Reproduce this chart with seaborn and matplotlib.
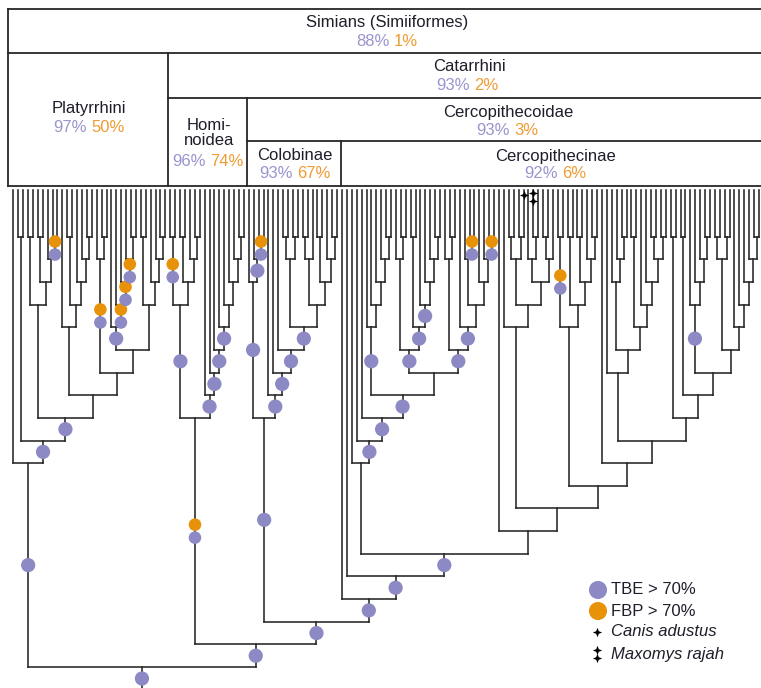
import matplotlib
matplotlib.use("Agg")
import matplotlib.pyplot as plt
import numpy as np
import pandas as pd
import seaborn as sns
from matplotlib.collections import LineCollection
from matplotlib.offsetbox import TextArea, HPacker, AnnotationBbox
from matplotlib.path import Path

sns.set_theme(style="white")
plt.rcParams["font.family"] = ["Liberation Sans", "DejaVu Sans"]

# ---------------- tree topology ----------------
# '*' = leaf; flags after a clade: b = TBE > 70%, o = FBP > 70%
W_PLAT = "(*,((*,*),(*,(*,(*,*)))))"
LADDER_PLAT = "(*,(*,(*,(*,(*,*))ob)ob)ob)b"
TAIL_PLAT = "((*,*),(*,(*,(*,*))))"
C1_PLAT = "((*,*),((*,*),(*,(*,*)ob)))"
H7_PLAT = "((*,(*,*))ob,(" + LADDER_PLAT + "," + TAIL_PLAT + "))"
PLATYRRHINI = "(*,((*,*),(" + C1_PLAT + ",(" + W_PLAT + "," + H7_PLAT + "))b)b)b"

HOMINOIDEA = ("(((*,*)ob,((*,*),(*,(*,*))))b,"
              "(*,(*,(*,(*,(*,(*,(*,(*,*)))))b)b)b)b)ob")

CORE_COL = "(((*,*),(*,*)),(((*,*),*),((*,*),(*,(*,*)))))b"
COLOBINAE = "((*,(*,(*,*)ob)b)b,(*,(*,(*," + CORE_COL + ")b)b)b)b"

R5A = "(*,(*,(*,(*,(*,*)))))b"
R6A = "((*,(*,*)),((*,*),(*,(*,(*,(*,*))))b)b)b"
R6B = "((*,(*,*)),(*,((*,(*,*)ob),(*,(*,(*,*)ob))))b)b"
R11 = "(*,(*,(*,(" + R5A + ",(" + R6A + "," + R6B + "))b)b)b)"
S1B = "(*,(((*,*),(*,*)),((*,(*,*)),((*,*),*))))"
S2 = "((*,*)ob,((*,*),((*,*),(*,(*,*)))))"
S4 = "(*,((*,(*,(*,*))),((*,*),(*,(*,((*,*),(*,*)))))))"
S9 = "((*,*),((*,*),((*,(*,(*,(*,*))))b,(((*,*),(*,*)),(*,(*,(*,(*,(*,*)))))))))"
R14 = "(*,(" + S1B + ",(" + S2 + ",(*,(" + S4 + "," + S9 + ")))))"
CERCOPITHECINAE = "(*,(*,(" + R11 + "," + R14 + ")b)b)b"

TREE = "(" + PLATYRRHINI + ",(" + HOMINOIDEA + ",(" + COLOBINAE + "," + CERCOPITHECINAE + ")b)b)b"

# leaves carrying contaminant flags (leaf index)
canis_leaves = [104]
maxomys_leaves = [106]

# ---------------- header boxes ----------------
clade_names = ["Simians (Simiiformes)", "Catarrhini", "Cercopithecoidae", "Platyrrhini",
               "Homi-\nnoidea", "Colobinae", "Cercopithecinae"]
tbe_pct = ["88%", "93%", "93%", "97%", "96%", "93%", "92%"]
fbp_pct = ["1%", "2%", "3%", "50%", "74%", "67%", "6%"]
name_xy = [(387, 23), (469, 66.5), (508, 113), (89, 108.5), (209, 133), (295, 155), (556, 156)]
pct_xy = [(387, 41), (467, 85), (507, 130.5), (89, 127), (208, 161.5), (295, 173.5), (555, 173.5)]

legend_labels = ["TBE > 70%", "FBP > 70%", "Canis adustus", "Maxomys rajah"]

# ---------------- layout ----------------
BLUE = "#8C89C4"
ORANGE = "#E8920A"
BLUE_TXT = "#9995CD"
ORANGE_TXT = "#EE9C34"
INK = "#262626"

X0, DX = 13.3, 4.906
LEAF_TOP = 190.0
Y1, DY = 236.7, 22.65
ROOT_BOTTOM = 690.0


def parse(s, i=0):
    if s[i] == "*":
        return {"kids": [], "flag": ""}, i + 1
    i += 1
    kids = []
    while True:
        node, i = parse(s, i)
        kids.append(node)
        if s[i] == ",":
            i += 1
            continue
        i += 1
        break
    flag = ""
    while i < len(s) and s[i] in "ob":
        flag += s[i]
        i += 1
    return {"kids": kids, "flag": flag}, i


root, _ = parse(TREE)
counter = [0]
leaves = []


def place(node):
    if not node["kids"]:
        node["x"] = X0 + counter[0] * DX
        node["h"] = 0
        leaves.append(node)
        counter[0] += 1
        return
    for k in node["kids"]:
        place(k)
    node["x"] = 0.5 * (node["kids"][0]["x"] + node["kids"][-1]["x"])
    node["h"] = 1 + max(k["h"] for k in node["kids"])


place(root)


def ycoord(node):
    return LEAF_TOP if node["h"] == 0 else Y1 + (node["h"] - 1) * DY


segs = []
dots = []


def walk(node, parent_y):
    y = ycoord(node)
    segs.append([(node["x"], y), (node["x"], parent_y)])
    if node["flag"]:
        mid = 0.5 * (y + parent_y)
        if node["flag"] == "ob":
            dots.append((node["x"], mid - 6.5, "FBP", "pair"))
            dots.append((node["x"], mid + 6.5, "TBE", "pair"))
        else:
            dots.append((node["x"], mid, "TBE", "single"))
    if node["kids"]:
        segs.append([(node["kids"][0]["x"], y), (node["kids"][-1]["x"], y)])
        for k in node["kids"]:
            walk(k, y)


walk(root, ROOT_BOTTOM)

fig = plt.figure(figsize=(7.61, 6.88), dpi=100)
ax = fig.add_axes([0, 0, 1, 1])
ax.set_xlim(0, 761)
ax.set_ylim(688, 0)
ax.axis("off")

ax.add_collection(LineCollection(segs, colors=INK, linewidths=1.15, capstyle="projecting", zorder=2))

# header grid
hl = [(9, 8.3, 762), (52.7, 8.3, 762), (98.3, 168.3, 762), (141, 247.3, 762), (185.7, 8.3, 762)]
for yy, xa, xb in hl:
    ax.plot([xa, xb], [yy, yy], color=INK, lw=1.3, solid_capstyle="projecting")
vl = [(8.3, 9, 185.7), (168.3, 52.7, 185.7), (247.3, 98.3, 185.7), (340.7, 141, 185.7)]
for xx, ya, yb in vl:
    ax.plot([xx, xx], [ya, yb], color=INK, lw=1.3, solid_capstyle="projecting")

for name, (nx, ny), tb, fb, (px, py) in zip(clade_names, name_xy, tbe_pct, fbp_pct, pct_xy):
    ax.text(nx, ny, name, ha="center", va="center", fontsize=12, color="#1e1e2a", linespacing=1.05)
    pack = HPacker(children=[TextArea(tb, textprops=dict(color=BLUE_TXT, fontsize=12)),
                             TextArea(fb, textprops=dict(color=ORANGE_TXT, fontsize=12))],
                   align="center", pad=0, sep=3.3)
    ax.add_artist(AnnotationBbox(pack, (px, py), xycoords="data", frameon=False,
                                 box_alignment=(0.5, 0.5), pad=0))

# support dots
dot_df = pd.DataFrame(dots, columns=["x", "y", "support", "kind"])
sns.scatterplot(data=dot_df, x="x", y="y", hue="support", size="kind",
                sizes={"single": 105, "pair": 82},
                palette={"TBE": BLUE, "FBP": ORANGE}, linewidth=0, legend=False, ax=ax, zorder=4)

# contaminant markers
star = Path([(0, 1), (0.28, 0.28), (1, 0), (0.28, -0.28), (0, -1), (-0.28, -0.28), (-1, 0), (-0.28, 0.28), (0, 1)],
            [Path.MOVETO] + [Path.LINETO] * 7 + [Path.CLOSEPOLY])
for i in canis_leaves:
    ax.scatter([leaves[i]["x"]], [195], marker=star, s=45, color="black", zorder=5, linewidths=0)
for i in maxomys_leaves:
    ax.scatter([leaves[i]["x"]] * 2, [193, 201], marker=star, s=45, color="black", zorder=5, linewidths=0)

# legend
leg_y = [590, 611, 632, 654]
sns.scatterplot(x=[598, 598], y=leg_y[:2], hue=["TBE", "FBP"], palette={"TBE": BLUE, "FBP": ORANGE},
                s=170, linewidth=0, legend=False, ax=ax, zorder=5)
ax.scatter([597], [632], marker=star, s=45, color="black", linewidths=0, zorder=5)
ax.scatter([597, 597], [650, 658], marker=star, s=45, color="black", linewidths=0, zorder=5)
for lab, yy in zip(legend_labels, leg_y):
    ax.text(611, yy, lab, ha="left", va="center", fontsize=12, color="#1e1e2a",
            style="italic" if lab in ("Canis adustus", "Maxomys rajah") else "normal")

fig.savefig("out.png", dpi=100)
